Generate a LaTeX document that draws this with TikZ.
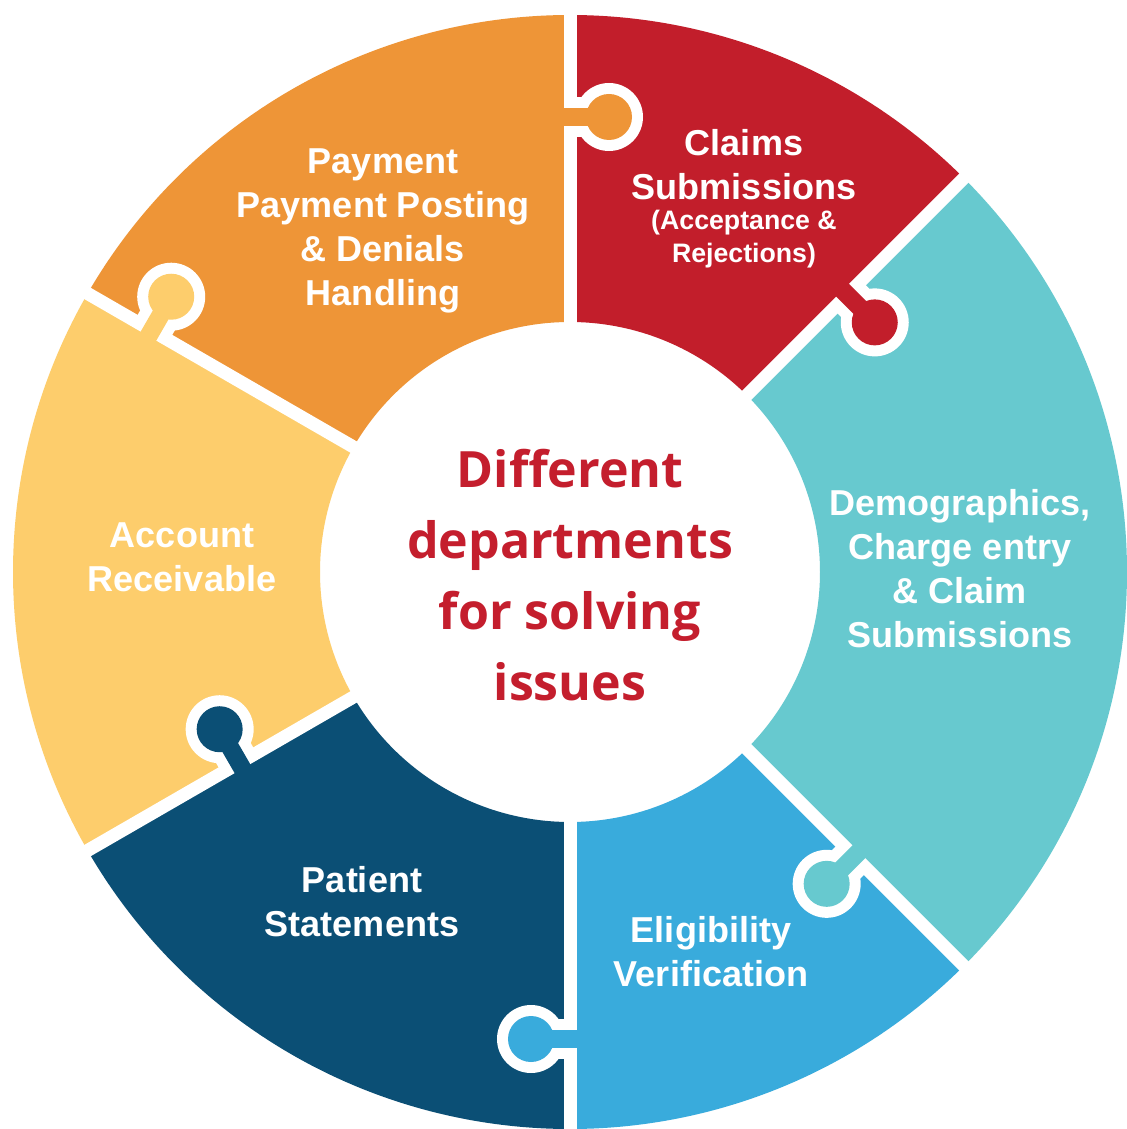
\documentclass[tikz,border=0pt]{standalone}
\usepackage{fontspec}
\setmainfont{Liberation Sans}
\newfontfamily\hubfont{Open Sans}
\usetikzlibrary{calc}
\definecolor{pieceorange}{HTML}{EE9537}
\definecolor{piecered}{HTML}{C21E2B}
\definecolor{pieceteal}{HTML}{67C9CF}
\definecolor{pieceblue}{HTML}{39ABDC}
\definecolor{piecenavy}{HTML}{0B4F75}
\definecolor{pieceyellow}{HTML}{FDCD6C}
\definecolor{hubred}{HTML}{C41E2D}
\def\px{0.02cm}
\tikzset{piecetext/.style={text=white, inner sep=0pt, align=center, font=\fontsize{20.5}{25}\selectfont\bfseries}}
\tikzset{smalltext/.style={piecetext, font=\fontsize{15.2}{18.8}\selectfont\bfseries}}
\tikzset{hubtext/.style={text=hubred, inner sep=0pt, align=center, font=\hubfont\fontsize{28.5}{40.4}\selectfont\bfseries}}
\tikzset{gap/.style={white, line width=13*\px}}
% one ring piece: colour, start angle, end angle
\newcommand{\ringpiece}[3]{%
  \fill[#1] (#2:250) arc[start angle=#2, end angle=#3, radius=250]
    -- (#3:557) arc[start angle=#3, end angle=#2, radius=557] -- cycle;}
% one tab: gap angle, distance from centre, colour
\newcommand{\tab}[3]{%
  \coordinate (tb) at (#1:#2);
  \coordinate (tc) at ($(tb)+(#1-90:39)$);
  \draw[white, line width=40*\px] (tb) -- (tc);
  \fill[white] (tc) circle[radius=34];
  \draw[#3, line width=18*\px] ($(tb)+(#1+90:12)$) -- (tc);
  \fill[#3] (tc) circle[radius=23];}

\begin{document}
\begin{tikzpicture}[x=\px, y=\px]
  \useasboundingbox (-570,-557) rectangle (556,572);
  \fill[white] (-570,-557) rectangle (556,572);

  \ringpiece{pieceorange}{90}{150}
  \ringpiece{piecered}{45}{90}
  \ringpiece{pieceteal}{-45}{45}
  \ringpiece{pieceblue}{-90}{-45}
  \ringpiece{piecenavy}{-150}{-90}
  \ringpiece{pieceyellow}{150}{210}

  \foreach \a in {90, 45, -45, -90, -150, 150}
    \draw[gap] (\a:240) -- (\a:565);

  \tab{90}{455}{pieceorange}
  \tab{45}{392}{piecered}
  \tab{-45}{402}{pieceteal}
  \tab{-90}{467}{pieceblue}
  \tab{-150}{382}{piecenavy}
  \tab{150}{483}{pieceyellow}

  \node [piecetext] (posting) at (-187, 341) {Payment\\Payment Posting\\\& Denials\\Handling};
  \node [piecetext] (claims) at (174, 407) {Claims\\Submissions};
  \node [smalltext] (accept) at (174, 333) {(Acceptance \&\\Rejections)};
  \node [piecetext] (demog) at (390, 3) {Demographics,\\Charge entry\\\& Claim\\Submissions};
  \node [piecetext] (elig) at (141, -380) {Eligibility\\Verification};
  \node [piecetext] (patient) at (-208, -330) {Patient\\Statements};
  \node [piecetext] (account) at (-388, 15) {Account\\Receivable};

  \node [hubtext] (hub) at (0, -3) {Different\\departments\\for solving\\issues};
\end{tikzpicture}
\end{document}
